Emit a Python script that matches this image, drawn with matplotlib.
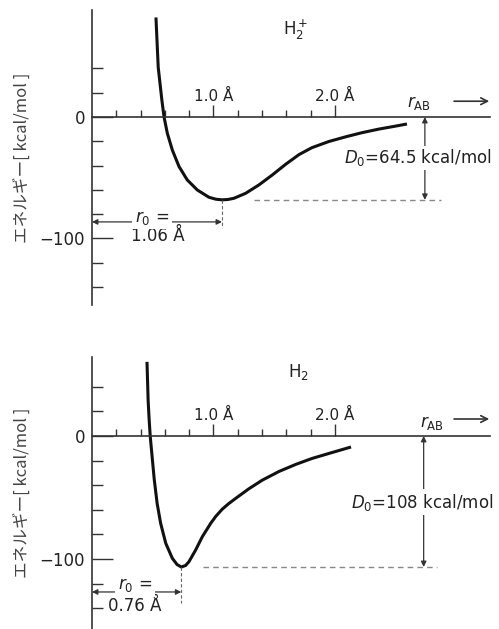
import matplotlib
matplotlib.use("Agg")
import matplotlib.pyplot as plt
from matplotlib.ticker import FixedLocator, NullFormatter

# values: r in angstrom, energy in kcal/mol
r_h2p = [0.527, 0.545, 0.575, 0.593, 0.620, 0.661, 0.716, 0.784, 0.867, 0.963, 1.02,
         1.072, 1.12, 1.169, 1.265, 1.374, 1.484, 1.594, 1.704, 1.81, 1.95, 2.09,
         2.22, 2.36, 2.50, 2.58]
e_h2p = [80.8, 41.0, 14.0, 0.0, -13.4, -27.2, -40.8, -51.9, -60.2, -66.2, -67.8,
         -68.3, -68.0, -67.0, -62.9, -56.0, -47.8, -39.0, -31.0, -25.3, -20.2, -16.3,
         -13.0, -10.0, -7.5, -6.0]

r_h2 = [0.453, 0.462, 0.470, 0.479, 0.495, 0.512, 0.536, 0.565, 0.607, 0.661, 0.70,
        0.735, 0.77, 0.798, 0.853, 0.908, 0.977, 1.02, 1.072, 1.125, 1.183, 1.29,
        1.40, 1.54, 1.68, 1.81, 1.95, 2.12]
e_h2 = [59.0, 29.0, 14.0, 0.0, -17.0, -35.0, -54.7, -71.0, -87.2, -99.4, -104.5,
        -106.5, -105.3, -102.2, -92.7, -81.9, -71.0, -65.2, -59.5, -55.0, -50.7,
        -43.0, -36.0, -28.8, -23.0, -18.3, -14.2, -9.3]

# minimum of each well (r0, E)
r0_h2p, emin_h2p = 1.07, -68.3
r0_h2, emin_h2 = 0.735, -106.5

x_major = [1.0, 2.0]
x_minor = [0.2, 0.4, 0.6, 0.8, 1.2, 1.4, 1.6, 1.8]
x_labels = ["1.0 Å", "2.0 Å"]
y_major = [-100, 0]
y_minor = [40, 20, -20, -40, -60, -80, -120, -140]
y_labels = ["−100", "0"]

AX_C = "#333333"
TXT_C = "#222222"
W, H = 499, 629

fig = plt.figure(figsize=(W / 100, H / 100), dpi=100)


def px_axes(left, top, right, bottom):
    return fig.add_axes([left / W, 1 - bottom / H, (right - left) / W, (bottom - top) / H])


def style_axes(ax, ylim):
    ax.set_xlim(0, 3.276)
    ax.set_ylim(*ylim)
    ax.spines["top"].set_visible(False)
    ax.spines["right"].set_visible(False)
    ax.spines["left"].set_position(("data", 0))
    ax.spines["bottom"].set_position(("data", 0))
    for s in ["left", "bottom"]:
        ax.spines[s].set_color(AX_C)
        ax.spines[s].set_linewidth(1.2)
    ax.xaxis.set_major_locator(FixedLocator(x_major))
    ax.xaxis.set_minor_locator(FixedLocator(x_minor))
    ax.xaxis.set_major_formatter(NullFormatter())
    ax.yaxis.set_major_locator(FixedLocator(y_major))
    ax.yaxis.set_minor_locator(FixedLocator(y_minor))
    ax.set_yticklabels(y_labels)
    ax.tick_params(axis="x", which="major", direction="in", length=9, width=1, color=AX_C)
    ax.tick_params(axis="x", which="minor", direction="in", length=5, width=1, color=AX_C)
    ax.tick_params(axis="y", which="major", direction="in", length=15, width=1,
                   color=AX_C, labelsize=12, labelcolor=TXT_C, pad=5)
    ax.tick_params(axis="y", which="minor", direction="in", length=8, width=1, color=AX_C)
    ax.set_ylabel("エネルギー[ kcal/mol ]", fontsize=12, color="#444444", va="center",
                  family=["Noto Sans CJK JP", "DejaVu Sans"])
    ax.yaxis.set_label_coords(-0.176, 0.5)
    for xv, lab in zip(x_major, x_labels):
        ax.text(xv, 16.5, lab, ha="center", va="center", fontsize=11, color=TXT_C)


def arrow(ax, p_from, p_to, style="<|-|>", lw=0.9, ms=8):
    ax.annotate("", xy=p_to, xytext=p_from,
                arrowprops=dict(arrowstyle=style, color=AX_C, lw=lw,
                                mutation_scale=ms, shrinkA=0, shrinkB=0))


# ---- top panel: H2+
ax1 = px_axes(92, 10, 490, 305)
style_axes(ax1, (-155.0, 88.2))
ax1.plot(r_h2p, e_h2p, color="#111111", lw=2.2, solid_joinstyle="round")
ax1.plot([1.33, 2.87], [emin_h2p, emin_h2p], color="#888888", lw=1, ls=(0, (4, 3)))
ax1.plot([r0_h2p, r0_h2p], [emin_h2p, -91.5], color="#666666", lw=0.8, ls=(0, (3, 2)))
arrow(ax1, (2.74, emin_h2p), (2.74, 0))
ax1.text(2.074, -33.8, r"$D_0$=64.5 kcal/mol", ha="left", va="center", fontsize=12,
         color=TXT_C, zorder=5, bbox=dict(fc="white", ec="none", pad=1))
arrow(ax1, (0, -86.5), (r0_h2p, -86.5))
ax1.text(0.494, -83.0, r"$r_0$ =", ha="center", va="center", fontsize=12, color=TXT_C,
         zorder=5, bbox=dict(fc="white", ec="none", pad=2))
ax1.text(0.54, -98.0, "1.06 Å", ha="center", va="center", fontsize=12, color=TXT_C)
ax1.text(1.68, 71.7, r"H$_2^+$", ha="center", va="center", fontsize=12, color=TXT_C)
ax1.text(2.69, 11.5, r"$r_{\mathrm{AB}}$", ha="center", va="center", fontsize=12, color=TXT_C)
arrow(ax1, (2.98, 13.0), (3.27, 13.0), style="->", lw=1.2, ms=12)

# ---- bottom panel: H2
ax2 = px_axes(92, 357, 490, 629)
style_axes(ax2, (-156.9, 64.2))
ax2.plot(r_h2, e_h2, color="#111111", lw=2.2, solid_joinstyle="round")
ax2.plot([0.91, 2.84], [emin_h2, emin_h2], color="#888888", lw=1, ls=(0, (4, 3)))
ax2.plot([r0_h2, r0_h2], [emin_h2, -136.0], color="#666666", lw=0.8, ls=(0, (3, 2)))
arrow(ax2, (2.73, emin_h2), (2.73, 0))
ax2.text(2.13, -53.7, r"$D_0$=108 kcal/mol", ha="left", va="center", fontsize=12,
         color=TXT_C, zorder=5, bbox=dict(fc="white", ec="none", pad=2))
arrow(ax2, (0, -126.8), (r0_h2, -126.8))
ax2.text(0.354, -121.0, r"$r_0$ =", ha="center", va="center", fontsize=12, color=TXT_C,
         zorder=5, bbox=dict(fc="white", ec="none", pad=2))
ax2.text(0.355, -138.0, "0.76 Å", ha="center", va="center", fontsize=12, color=TXT_C)
ax2.text(1.70, 52.0, r"H$_2$", ha="center", va="center", fontsize=12, color=TXT_C)
ax2.text(2.80, 10.6, r"$r_{\mathrm{AB}}$", ha="center", va="center", fontsize=12, color=TXT_C)
arrow(ax2, (2.98, 13.8), (3.27, 13.8), style="->", lw=1.2, ms=12)

fig.savefig("out.png", dpi=100)
